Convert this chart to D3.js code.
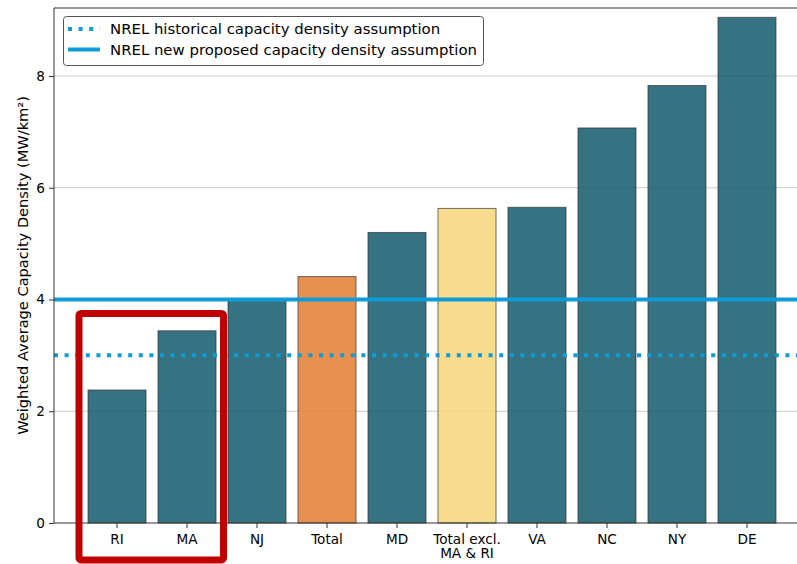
<!DOCTYPE html>
<html><head><meta charset="utf-8">
<script src="https://cdn.jsdelivr.net/npm/d3@7"></script>
<style>body{margin:0;background:#fff}svg{display:block;font-family:"DejaVu Sans",sans-serif}</style>
</head><body><svg id="c" width="797" height="564"></svg>
<script>
const categories = ["RI","MA","NJ","Total","MD","Total excl.\nMA & RI","VA","NC","NY","DE"];
const values = [2.38, 3.44, 4.0, 4.41, 5.2, 5.63, 5.65, 7.07, 7.83, 9.05];
const barKinds = ["state","state","state","total","state","totalExcl","state","state","state","state"];
const yTicks = [0, 2, 4, 6, 8];
const refLines = [
  {label:"NREL historical capacity density assumption", value:3, style:"dotted"},
  {label:"NREL new proposed capacity density assumption", value:4, style:"solid"}
];
const highlighted = ["RI","MA"];
const yLabel = "Weighted Average Capacity Density (MW/km\u00B2)";

const colors = {state:"#12596c", total:"#e47c31", totalExcl:"#f7d67a"};
const lineColor = "#0e9bd8";

(function(){
const svg = d3.select("#c");
const pL = 54, pT = 8, pB = 523, pR = 820;
const y = d3.scaleLinear().domain([0, 9.217]).range([pB, pT]);
const x = d3.scaleBand().domain(categories).range([82, 782]).paddingInner(0.171).paddingOuter(0.0857);

svg.append("defs").append("clipPath").attr("id","pc")
  .append("rect").attr("x",pL).attr("y",pT).attr("width",pR-pL).attr("height",pB-pT);

// grid
svg.append("g").selectAll("line").data(yTicks.filter(d=>d>0)).join("line")
  .attr("x1",pL).attr("x2",797).attr("y1",d=>y(d)).attr("y2",d=>y(d))
  .attr("stroke","#cccccc").attr("stroke-width",1);

// bars
svg.append("g").selectAll("rect").data(categories).join("rect")
  .attr("x",d=>x(d)).attr("width",x.bandwidth())
  .attr("y",(d,i)=>y(values[i])).attr("height",(d,i)=>y(0)-y(values[i]))
  .attr("fill",(d,i)=>colors[barKinds[i]]).attr("fill-opacity",0.85)
  .attr("stroke","#333").attr("stroke-opacity",0.7).attr("stroke-width",1);

// reference lines
const rl = svg.append("g").attr("clip-path","url(#pc)");
refLines.forEach(r=>{
  rl.append("line").attr("x1",pL).attr("x2",pR).attr("y1",y(r.value)).attr("y2",y(r.value))
    .attr("stroke",lineColor).attr("stroke-width",4)
    .attr("stroke-dasharray", r.style==="dotted" ? "4,6.6" : null);
});

// spines
svg.append("line").attr("x1",pL).attr("x2",pL).attr("y1",pT).attr("y2",pB).attr("stroke","#333").attr("stroke-width",1);
svg.append("line").attr("x1",pL).attr("x2",797).attr("y1",pT).attr("y2",pT).attr("stroke","#333").attr("stroke-width",1);
svg.append("line").attr("x1",pL).attr("x2",797).attr("y1",pB).attr("y2",pB).attr("stroke","#333").attr("stroke-width",1);

// y axis
const ya = svg.append("g").attr("transform",`translate(${pL},0)`)
  .call(d3.axisLeft(y).tickValues(yTicks).tickSize(5).tickPadding(4).tickFormat(d3.format("d")));
ya.select(".domain").remove();
ya.selectAll("line").attr("stroke","#333");
ya.selectAll("text").attr("font-size",13.6).attr("fill","#000").attr("font-family","DejaVu Sans");

// x axis
const xa = svg.append("g").attr("transform",`translate(0,${pB})`)
  .call(d3.axisBottom(x).tickSize(5).tickPadding(4).tickFormat(""));
xa.select(".domain").remove();
xa.selectAll("line").attr("stroke","#333");
xa.selectAll(".tick").each(function(d){
  const lines = d.split("\n");
  const t = d3.select(this).append("text").attr("fill","#000").attr("font-size",13.6)
    .attr("text-anchor","middle").attr("font-family","DejaVu Sans");
  lines.forEach((s,i)=>t.append("tspan").attr("x",0).attr("y",20.5+i*14.5).text(s));
});

// y label
svg.append("text").attr("transform",`translate(27.5,${(pT+pB)/2}) rotate(-90)`)
  .attr("text-anchor","middle").attr("font-size",14.6).attr("fill","#000").text(yLabel);

// highlight box
const hx0 = x(highlighted[0]) - 9, hx1 = x(highlighted[1]) + x.bandwidth() + 7.5;
svg.append("rect").attr("x",hx0).attr("y",y(3.75)).attr("width",hx1-hx0).attr("height",y(-0.66)-y(3.75))
  .attr("rx",2).attr("fill","none").attr("stroke","#c00000").attr("stroke-width",7);

// legend
const lg = svg.append("g");
lg.append("rect").attr("x",63.5).attr("y",16.5).attr("width",420).attr("height",49).attr("rx",3)
  .attr("fill","#fff").attr("fill-opacity",0.8).attr("stroke","#555").attr("stroke-width",1);
refLines.forEach((r,i)=>{
  const yy = 29 + i*20.5;
  lg.append("line").attr("x1",68).attr("x2",100).attr("y1",yy).attr("y2",yy)
    .attr("stroke",lineColor).attr("stroke-width",4)
    .attr("stroke-dasharray", r.style==="dotted" ? "4,6.6" : null);
  lg.append("text").attr("x",110).attr("y",yy+5.2).attr("font-size",14.9).attr("fill","#000").text(r.label);
});
})();
</script></body></html>
